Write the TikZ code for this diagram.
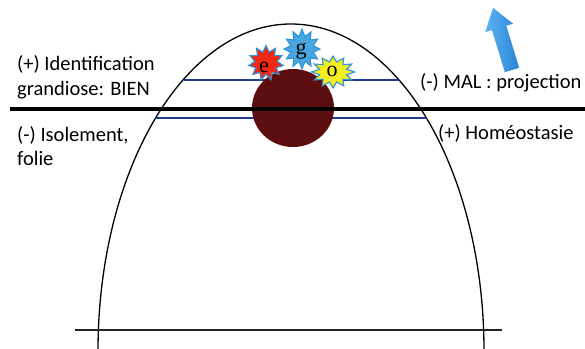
\documentclass[tikz,border=0pt]{standalone}
\usepackage{fontspec}
\setmainfont{Carlito}
\newfontfamily\egofont{Liberation Serif}
\usetikzlibrary{shapes.geometric}
\definecolor{navyline}{HTML}{1F3A8F}
\definecolor{maroonball}{HTML}{5C0E0E}
\definecolor{starred}{HTML}{EE2A14}
\definecolor{starblue}{HTML}{4AA6E0}
\definecolor{staryellow}{HTML}{F4EE1E}
\definecolor{starrim}{HTML}{2F92D8}
\definecolor{arrowlight}{HTML}{5AB2F2}
\definecolor{arrowdark}{HTML}{2A84D6}
\tikzset{
  lab/.style={anchor=base west, inner sep=0pt, font=\fontsize{20.5}{23}\selectfont},
  egostar/.style={star, star point ratio=1.55, inner sep=0pt, draw=starrim, line width=1.1pt},
  egoletter/.style={anchor=base, inner sep=0pt, font=\egofont\fontsize{22}{22}\selectfont},
  chord/.style={navyline, line width=1.8pt},
  blockarrow/.style={left color=arrowlight, right color=arrowdark},
}
\begin{document}
\begin{tikzpicture}[x=1pt,y=-1pt]
\useasboundingbox (0,0) rectangle (585,348);
\begin{scope}
\clip (0,0) rectangle (585,348);
% arch (half ellipse)
\draw[line width=1.3pt] (291,351) ellipse [x radius=193, y radius=327];
\end{scope}
% chord end points on the arch
\coordinate (u1) at (184,80);
\coordinate (u2) at (399,80);
\coordinate (l1) at (155,118);
\coordinate (l2) at (427,118);
\coordinate (t1) at (10,109);
\coordinate (t2) at (585,109);
\coordinate (b1) at (75,330);
\coordinate (b2) at (502,330);
\draw[chord] (u1) -- (u2);
\draw[chord] (l1) -- (l2);
\draw[line width=1.2pt, black!85] (b1) -- (b2);
% dark ball
\node[ellipse, fill=maroonball, minimum width=82pt, minimum height=78pt, inner sep=0pt] (ball) at (293,108) {};
% thick horizon line
\draw[line width=4.2pt] (t1) -- (t2);
% stars
\node[egostar, fill=starred, star points=11, minimum size=35pt] (se) at (266,63) {};
\node[egostar, fill=starblue, star points=12, minimum size=36pt, yscale=1.1] (sg) at (302,49) {};
\node[egostar, fill=staryellow, star points=12, minimum size=32pt, xscale=1.35] (so) at (333,72) {};
\node[egoletter] (le) at (264,72) {e};
\node[egoletter] (lg) at (301,54) {g};
\node[egoletter] (lo) at (332,76) {o};
% block arrow
\begin{scope}[shift={(512,70)}, rotate=17]
\shade[blockarrow] (-7.5,0) -- (-7.5,-44) -- (-14.5,-44) -- (0,-65) -- (14.5,-44) -- (7.5,-44) -- (7.5,0) -- cycle;
\end{scope}
% labels
\node[lab] (t1a) at (17,70) {(+) Identification};
\node[lab] (t1b) at (17,95) {grandiose: BIEN};
\node[lab] (t2a) at (17,141) {(-) Isolement,};
\node[lab] (t2b) at (17,165) {folie};
\node[lab] (t3) at (420,88) {(-) MAL : projection};
\node[lab] (t4) at (438,139) {(+) Homéostasie};
\end{tikzpicture}
\end{document}
